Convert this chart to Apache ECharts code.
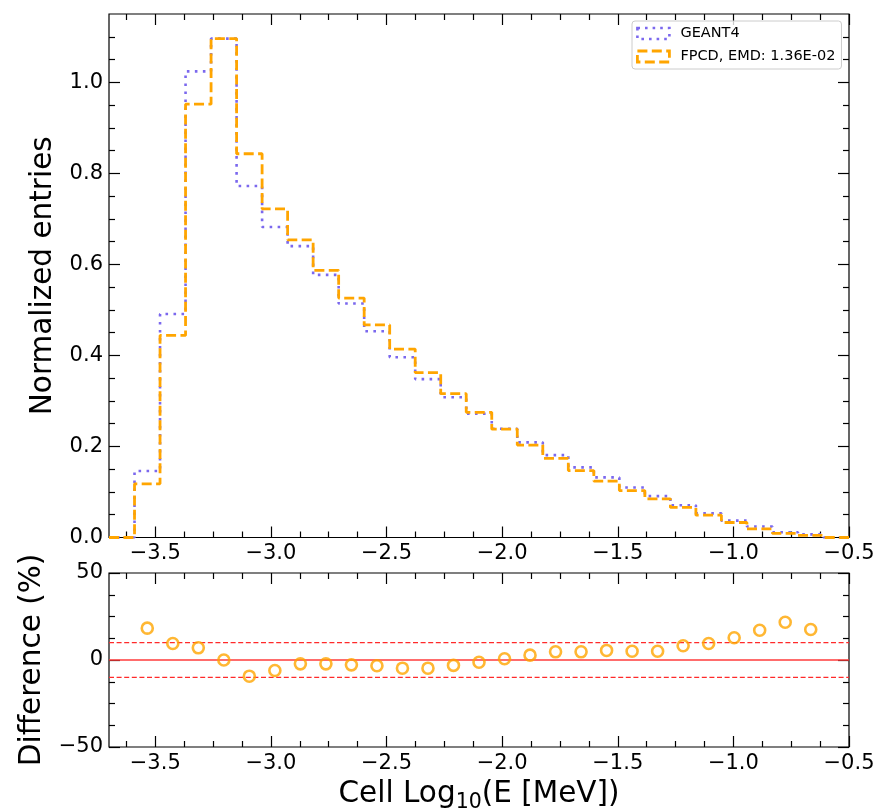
<!DOCTYPE html>
<html><head><meta charset="utf-8">
<script src="https://cdn.jsdelivr.net/npm/echarts@6/dist/echarts.min.js"></script>
<style>html,body{margin:0;padding:0;background:#fff}#c{width:886px;height:810px}</style>
</head><body><div id="c"></div>
<script>
// ---- data ----
const xRange = [-3.7, -0.5];
const nBins = 29;
const geant4 = [0, 0.146, 0.491, 1.024, 1.096, 0.772, 0.682, 0.640, 0.577, 0.514, 0.453, 0.396, 0.348, 0.308, 0.272, 0.239, 0.209, 0.181, 0.154, 0.132, 0.110, 0.091, 0.071, 0.053, 0.037, 0.024, 0.0114, 0.0068, 0];
const fpcd   = [0, 0.118, 0.444, 0.952, 1.096, 0.843, 0.722, 0.654, 0.587, 0.526, 0.467, 0.414, 0.362, 0.316, 0.275, 0.238, 0.203, 0.174, 0.147, 0.124, 0.103, 0.085, 0.066, 0.049, 0.033, 0.019, 0.009, 0.0045, 0];
const diffPct = [null, 18.3, 9.5, 7.0, 0.0, -9.3, -6.0, -2.2, -2.2, -2.8, -3.3, -4.7, -4.7, -3.1, -1.3, 0.7, 2.8, 4.7, 4.7, 5.5, 5.0, 5.0, 8.2, 9.5, 12.8, 17.1, 21.7, 17.5, null];
const xMajorTicks = [-3.5, -3.0, -2.5, -2.0, -1.5, -1.0, -0.5];
const xMinorTicks = [-3.625, -3.375, -3.25, -3.125, -2.875, -2.75, -2.625, -2.375, -2.25, -2.125, -1.875, -1.75, -1.625, -1.375, -1.25, -1.125, -0.875, -0.75, -0.625];
const topYRange = [0, 1.15];
const topYMajor = [0, 0.2, 0.4, 0.6, 0.8, 1.0];
const topYMinor = [0.05, 0.1, 0.15, 0.25, 0.3, 0.35, 0.45, 0.5, 0.55, 0.65, 0.7, 0.75, 0.85, 0.9, 0.95, 1.05, 1.1];
const diffYRange = [-50, 50];
const diffYMajor = [-50, 0, 50];
const diffYMinor = [-37.5, -25, -12.5, 12.5, 25, 37.5];
const refLines = [0, 10, -10];
const names = ['GEANT4', 'FPCD, EMD: 1.36E-02'];

// ---- build ----
const binW = (xRange[1] - xRange[0]) / nBins;
const edges = [];
for (let k = 0; k <= nBins; k++) edges.push(xRange[0] + k * binW);
function stepData(vals) {
  const d = vals.map((v, i) => [edges[i], v]);
  d.push([edges[nBins], vals[nBins - 1]]);
  return d;
}
const diffData = [];
diffPct.forEach((v, i) => { if (v !== null) diffData.push([(edges[i] + edges[i + 1]) / 2, v]); });

const FONT = 'DejaVu Sans';
const LABEL_FS = 21;
const NAME_FS = 29.5;
const minus = v => (v < 0 ? '\u2212' : '') + Math.abs(v);
const fmtX = v => (v < 0 ? '\u2212' : '') + Math.abs(v).toFixed(1);

function axis(grid, pos, range, vals, len, labelFmt, extra) {
  const a = {
    type: 'value', gridIndex: grid, position: pos, min: range[0], max: range[1],
    axisLine: { show: false, onZero: false },
    splitLine: { show: false },
    axisTick: { show: true, inside: true, length: len, customValues: vals, lineStyle: { color: '#000', width: 1.2 } },
    axisLabel: labelFmt ? { show: true, customValues: vals, margin: 6, color: '#000', fontSize: LABEL_FS, fontFamily: FONT, formatter: labelFmt } : { show: false }
  };
  return Object.assign(a, extra || {});
}

const xAxes = [
  axis(0, 'bottom', xRange, xMajorTicks, 11, fmtX),
  axis(0, 'top', xRange, xMajorTicks, 11, null),
  axis(0, 'bottom', xRange, xMinorTicks, 6, null),
  axis(0, 'top', xRange, xMinorTicks, 6, null),
  axis(1, 'bottom', xRange, xMajorTicks, 11, fmtX, {
    name: 'Cell Log{sub|10}(E [MeV])', nameLocation: 'middle', nameGap: 27,
    nameTextStyle: { fontSize: NAME_FS, fontFamily: FONT, color: '#000', lineHeight: 38,
      rich: { sub: { fontSize: 20.5, lineHeight: 20, verticalAlign: 'bottom', fontFamily: FONT, color: '#000' } } }
  }),
  axis(1, 'top', xRange, xMajorTicks, 11, null),
  axis(1, 'bottom', xRange, xMinorTicks, 6, null),
  axis(1, 'top', xRange, xMinorTicks, 6, null)
];
const yAxes = [
  axis(0, 'left', topYRange, topYMajor, 11, v => v.toFixed(1), {
    name: 'Normalized entries', nameLocation: 'middle', nameGap: 33,
    nameTextStyle: { fontSize: NAME_FS, fontFamily: FONT, color: '#000' }
  }),
  axis(0, 'right', topYRange, topYMajor, 11, null),
  axis(0, 'left', topYRange, topYMinor, 6, null),
  axis(0, 'right', topYRange, topYMinor, 6, null),
  axis(1, 'left', diffYRange, diffYMajor, 11, minus, {
    name: 'Difference (%)', nameLocation: 'middle', nameGap: 51,
    nameTextStyle: { fontSize: NAME_FS, fontFamily: FONT, color: '#000' }
  }),
  axis(1, 'right', diffYRange, diffYMajor, 11, null),
  axis(1, 'left', diffYRange, diffYMinor, 6, null),
  axis(1, 'right', diffYRange, diffYMinor, 6, null)
];

const refSeries = refLines.map(v => ({
  type: 'line', name: 'ref' + v, xAxisIndex: 4, yAxisIndex: 4, silent: true,
  data: [[xRange[0], v], [xRange[1], v]], symbol: 'none', showSymbol: false, z: 1,
  lineStyle: v === 0 ? { color: '#ff3b3b', width: 1.6, type: 'solid' } : { color: '#ff2a2a', width: 1.4, type: [5, 2.6] }
}));

const chart = echarts.init(document.getElementById('c'), null, { renderer: 'canvas' });
chart.setOption({
  animation: false,
  backgroundColor: '#fff',
  textStyle: { fontFamily: FONT },
  grid: [
    { left: 109, top: 14, width: 740, height: 523.5, show: true, borderColor: '#000', borderWidth: 1.2, backgroundColor: 'transparent', containLabel: false, outerBoundsMode: 'none' },
    { left: 109, top: 573, width: 740, height: 174, show: true, borderColor: '#000', borderWidth: 1.2, backgroundColor: 'transparent', containLabel: false, outerBoundsMode: 'none' }
  ],
  xAxis: xAxes,
  yAxis: yAxes,
  legend: {
    orient: 'vertical', left: 632, top: 21, padding: [5, 6, 5, 4],
    itemWidth: 32, itemHeight: 11, itemGap: 8, selectedMode: false,
    backgroundColor: 'rgba(255,255,255,0.8)', borderColor: '#cccccc', borderWidth: 1, borderRadius: 3,
    formatter: n => '{t|' + n + '}',
    textStyle: { fontSize: 14.5, fontFamily: FONT, color: '#000',
      rich: { t: { fontSize: 14.5, fontFamily: FONT, color: '#000', padding: [0, 0, 0, 6] } } },
    data: [
      { name: names[0], icon: 'rect', itemStyle: { color: 'rgba(0,0,0,0)', borderColor: '#7B68EE', borderWidth: 2.6, borderType: [2.6, 5] } },
      { name: names[1], icon: 'rect', itemStyle: { color: 'rgba(0,0,0,0)', borderColor: '#FFA500', borderWidth: 2.8, borderType: [10, 4.4] } }
    ]
  },
  series: [
    { type: 'line', name: names[0], xAxisIndex: 0, yAxisIndex: 0, data: stepData(geant4), step: 'end',
      symbol: 'none', showSymbol: false, itemStyle: { color: '#7B68EE' },
      lineStyle: { color: '#7B68EE', width: 2.6, type: [2.6, 5.4], cap: 'butt' }, z: 2 },
    { type: 'line', name: names[1], xAxisIndex: 0, yAxisIndex: 0, data: stepData(fpcd), step: 'end',
      symbol: 'none', showSymbol: false, itemStyle: { color: '#FFA500' },
      lineStyle: { color: '#FFA500', width: 2.8, type: [10, 4.4], cap: 'butt' }, z: 3 }
  ].concat(refSeries, [
    { type: 'scatter', name: 'diff', xAxisIndex: 4, yAxisIndex: 4, data: diffData, symbol: 'circle', symbolSize: 11,
      itemStyle: { color: 'rgba(0,0,0,0)', borderColor: '#FFA500', borderWidth: 2.6 }, z: 4 }
  ])
});
</script></body></html>
